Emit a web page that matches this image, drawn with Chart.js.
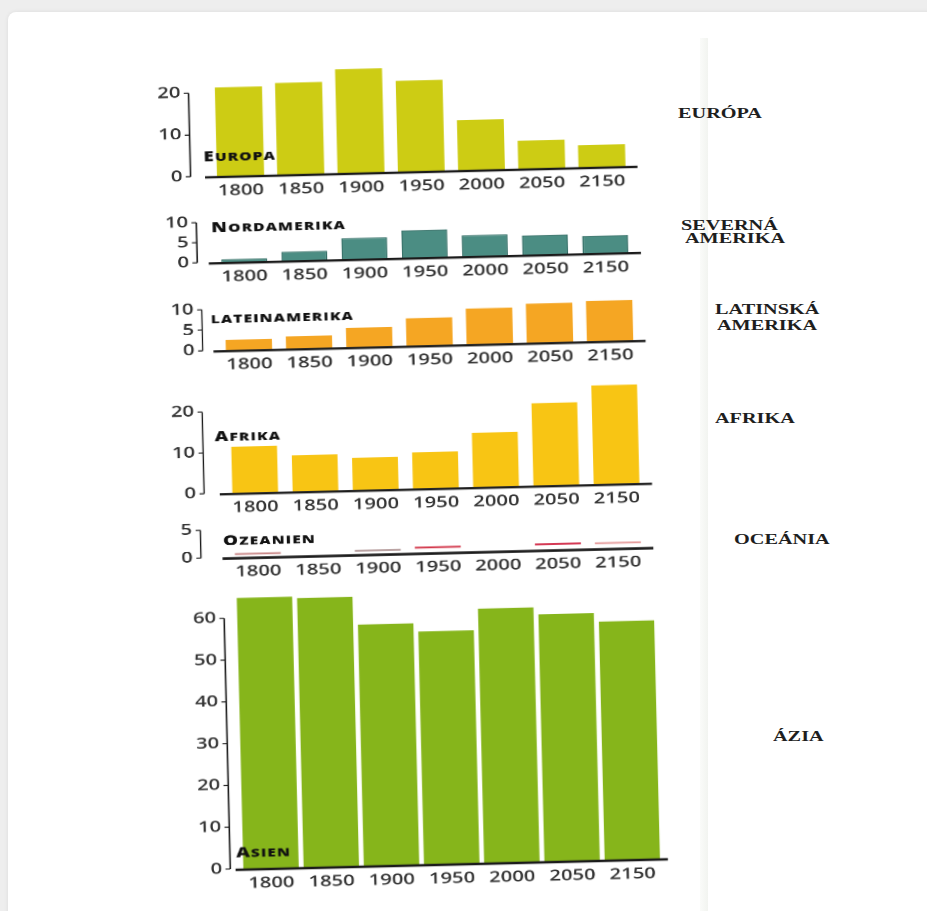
<!DOCTYPE html>
<html>
<head>
<meta charset="utf-8">
<script src="https://cdn.jsdelivr.net/npm/chart.js@4"></script>
<style>
html, body { margin: 0; padding: 0; }
body { width: 927px; height: 911px; overflow: hidden; background: #eeeeee; position: relative; }
#card { position: absolute; left: 8px; top: 12px; width: 940px; height: 920px; background: #fff; border-radius: 8px; box-shadow: 0 0 4px rgba(0,0,0,0.08); }
#edge { position: absolute; left: 700px; top: 38px; width: 8px; height: 880px; background: linear-gradient(to right, #fafbf9, #f2f4f0); }
#charts { position: absolute; left: 0; top: 0; width: 927px; height: 911px; transform-origin: 430px 480px; transform: rotate(-1.4deg) scaleX(1.35); }
.panel { position: absolute; }
.sk { position: absolute; font-family: 'Liberation Serif', 'Times New Roman', serif; font-weight: bold; font-size: 15px; line-height: 16px; color: #1e1e1e; transform-origin: 0 0; transform: scaleX(1.35); white-space: nowrap; }
</style>
</head>
<body>
<div id="card"></div>
<div id="edge"></div>
<div id="charts"></div>

<div class="sk" style="left:678px; top:105px">EURÓPA</div>
<div class="sk" style="left:681px; top:217px">SEVERNÁ</div>
<div class="sk" style="left:685px; top:230px">AMERIKA</div>
<div class="sk" style="left:715px; top:301px">LATINSKÁ</div>
<div class="sk" style="left:717px; top:317px">AMERIKA</div>
<div class="sk" style="left:715px; top:410px">AFRIKA</div>
<div class="sk" style="left:734px; top:531px">OCEÁNIA</div>
<div class="sk" style="left:773px; top:728px">ÁZIA</div>

<script>
// share of world population, percent
const years = ['1800', '1850', '1900', '1950', '2000', '2050', '2150'];

const europa = [21.2, 21.9, 24.8, 21.7, 12, 6.7, 5.3];
const nordamerika = [0.7, 2.2, 5.2, 6.8, 5.2, 4.8, 4.3];
const lateinamerika = [2.5, 3, 4.7, 6.7, 8.7, 9.5, 9.8];
const afrika = [11.3, 8.9, 7.9, 8.9, 13.3, 20.2, 24.2];
const ozeanien = [0.75, 0, 0.8, 1.1, 0, 1.2, 1.1];
const asien = [64.8, 64.4, 57.7, 55.7, 60.8, 59.1, 57];

const europaTicks = [0, 10, 20];
const nordamerikaTicks = [0, 5, 10];
const lateinamerikaTicks = [0, 5, 10];
const afrikaTicks = [0, 10, 20];
const ozeanienTicks = [0, 5];
const asienTicks = [0, 10, 20, 30, 40, 50, 60];

// layout of each small chart (before the page is skewed)
const panels = [
  { big: 'E', small: 'UROPA', values: europa, ticks: europaTicks, max: 27,
    color: '#cdcc14', left: 272.5, right: 585.3, zero: 170.5, unit: 4.17, gap: 14.8, lx: -4.9, ly: 15, bar: 0.78 },
  { big: 'N', small: 'ORDAMERIKA', values: nordamerika, ticks: nordamerikaTicks, max: 11,
    color: '#4b8d83', border: '#2f6b63', bw: 1, left: 274.4, right: 586.3, zero: 256.8, unit: 4.02, gap: 12.5, lx: -1.5, ly: 30, bar: 0.76 },
  { big: '', small: 'LATEINAMERIKA', values: lateinamerika, ticks: lateinamerikaTicks, max: 11,
    color: '#f5a623', left: 276.1, right: 587.8, zero: 344.8, unit: 4.08, gap: 12, lx: -5.5, ly: 27, bar: 0.77 },
  { big: 'A', small: 'FRIKA', values: afrika, ticks: afrikaTicks, max: 26,
    color: '#f8c514', left: 278.1, right: 590.4, zero: 487.8, unit: 4.07, gap: 15.5, lx: -6.7, ly: 52, bar: 0.76 },
  { big: 'O', small: 'ZEANIEN', values: ozeanien, ticks: ozeanienTicks, max: 5.5,
    color: 'rgba(255,255,255,0)', border: ['#c98787', '#c98787', '#bba4a4', '#d2364a', '#d2364a', '#d43a55', '#e59c9c'],
    bw: { top: 2, left: 0, right: 0, bottom: 0 },
    left: 278.9, right: 590, zero: 552.4, unit: 5.6, gap: 20, lx: -3.4, ly: 12.5, bar: 0.77 },
  { big: 'A', small: 'SIEN', values: asien, ticks: asienTicks, max: 67,
    color: '#86b51b', left: 282.7, right: 595.5, zero: 864, unit: 4.18, gap: 7.9, lx: -3.3, ly: 11.6, bar: 0.92 }
];

const PAD_L = 50, PAD_R = 8, PAD_T = 14, X_AXIS = 30;

function makeDecor(p) {
  return {
    id: 'decor',
    afterDatasetsDraw(chart) {
      const { ctx, chartArea: a } = chart;
      const y = chart.scales.y;
      ctx.save();
      ctx.fillStyle = '#111';
      ctx.textAlign = 'left';
      ctx.textBaseline = 'alphabetic';
      ctx.letterSpacing = '0.8px';
      let x = a.left + p.lx;
      const by = y.getPixelForValue(0) - p.ly;
      if (p.big) {
        ctx.font = '800 14px "Open Sans"';
        ctx.fillText(p.big, x, by);
        x += ctx.measureText(p.big).width;
      }
      ctx.font = '800 11.5px "Open Sans"';
      ctx.fillText(p.small, x, by);
      ctx.restore();
    },
    afterDraw(chart) {
      const { ctx, chartArea: a } = chart;
      const y = chart.scales.y;
      const z = y.getPixelForValue(0);
      ctx.save();
      ctx.strokeStyle = '#1b1b1b';
      ctx.lineWidth = 2.4;
      ctx.beginPath();
      ctx.moveTo(a.left - 4, z + 1);
      ctx.lineTo(a.right + 4, z + 1);
      ctx.stroke();

      const ax = a.left - p.gap;
      const top = y.getPixelForValue(p.ticks[p.ticks.length - 1]);
      ctx.lineWidth = 1.1;
      ctx.beginPath();
      ctx.moveTo(ax, top);
      ctx.lineTo(ax, z);
      p.ticks.forEach(t => {
        const ty = y.getPixelForValue(t);
        ctx.moveTo(ax - 3.5, ty);
        ctx.lineTo(ax, ty);
      });
      ctx.stroke();

      ctx.font = '600 15px "Open Sans"';
      ctx.fillStyle = '#333';
      ctx.textAlign = 'right';
      ctx.textBaseline = 'middle';
      p.ticks.forEach(t => ctx.fillText(String(t), ax - 6, y.getPixelForValue(t)));
      ctx.restore();
    }
  };
}

const holder = document.getElementById('charts');

panels.forEach(p => {
  const plotH = p.max * p.unit;
  const box = document.createElement('div');
  box.className = 'panel';
  box.style.left = (p.left - PAD_L) + 'px';
  box.style.top = (p.zero - plotH - PAD_T) + 'px';
  box.style.width = (p.right - p.left + PAD_L + PAD_R) + 'px';
  box.style.height = (PAD_T + plotH + X_AXIS) + 'px';
  const canvas = document.createElement('canvas');
  box.appendChild(canvas);
  holder.appendChild(box);

  new Chart(canvas, {
    type: 'bar',
    data: {
      labels: years,
      datasets: [{
        data: p.values,
        backgroundColor: p.color,
        borderColor: p.border || p.color,
        borderWidth: p.bw || 0,
        barPercentage: p.bar,
        categoryPercentage: 1
      }]
    },
    options: {
      responsive: true,
      maintainAspectRatio: false,
      animation: false,
      devicePixelRatio: 2,
      events: [],
      layout: { padding: { left: PAD_L, right: PAD_R, top: PAD_T, bottom: 0 } },
      plugins: { legend: { display: false }, tooltip: { enabled: false } },
      scales: {
        x: {
          grid: { display: false, drawTicks: false },
          border: { display: false },
          ticks: {
            color: '#333',
            font: { family: 'Open Sans', size: 15, weight: '600' },
            padding: 6,
            maxRotation: 0,
            autoSkip: false
          },
          afterFit: s => { s.height = X_AXIS; }
        },
        y: { display: false, min: 0, max: p.max }
      }
    },
    plugins: [makeDecor(p)]
  });
});
</script>
</body>
</html>
